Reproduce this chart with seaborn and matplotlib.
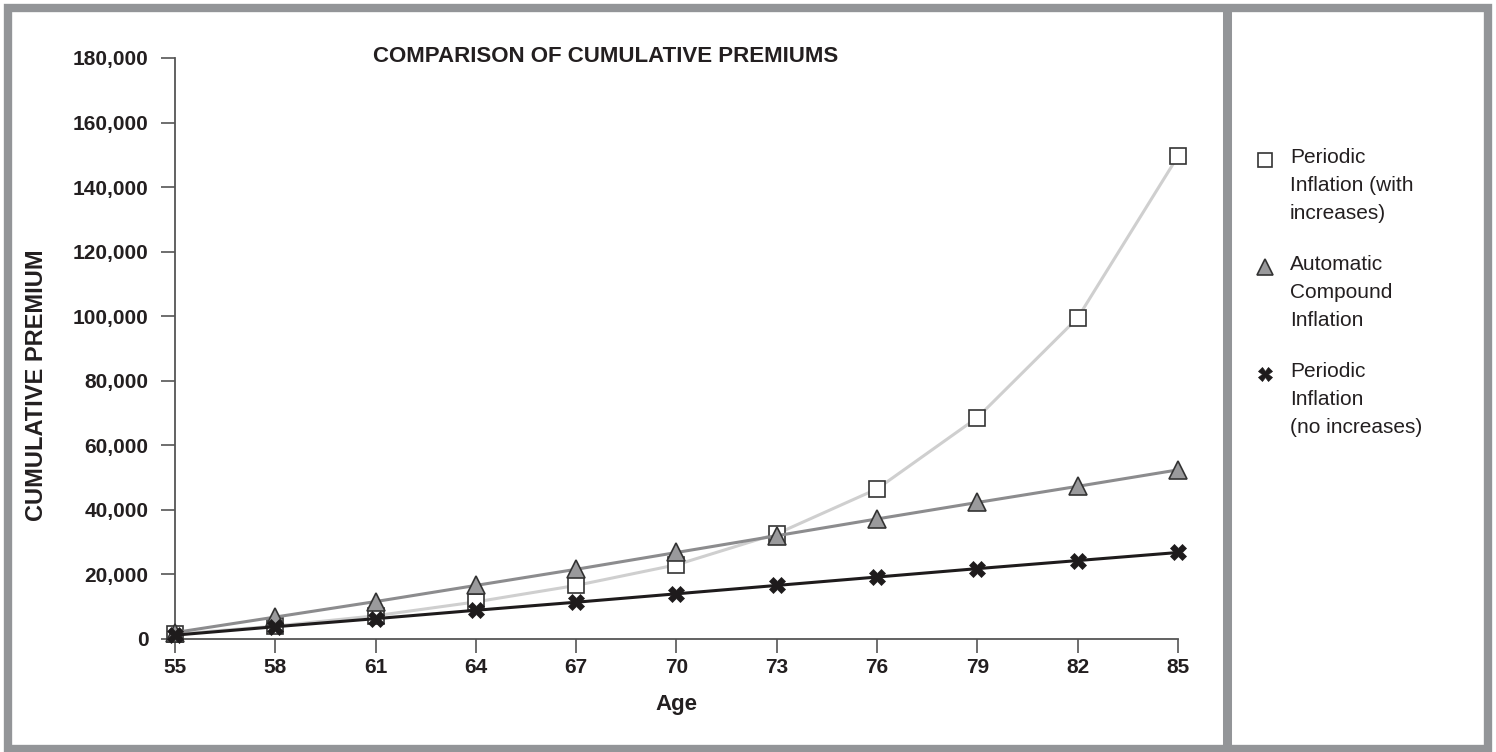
import matplotlib
matplotlib.use("Agg")
import matplotlib.pyplot as plt
from matplotlib.lines import Line2D
from matplotlib.patches import Rectangle
import numpy as np
import pandas as pd
import seaborn as sns

ages = [55, 58, 61, 64, 67, 70, 73, 76, 79, 82, 85]
periodic_with = [1500, 4000, 7200, 11500, 16600, 23000, 32600, 46500, 68600, 99500, 149600]
automatic = [2000, 6800, 11600, 16600, 21600, 26800, 32000, 37200, 42300, 47300, 52400]
periodic_no = [1200, 3800, 6300, 8900, 11400, 14000, 16600, 19200, 21800, 24300, 26800]
y_ticks = [0, 20000, 40000, 60000, 80000, 100000, 120000, 140000, 160000, 180000]

labels = ["Periodic\nInflation (with\nincreases)",
          "Automatic\nCompound\nInflation",
          "Periodic\nInflation\n(no increases)"]

df = pd.DataFrame({"Age": ages, "with": periodic_with,
                   "auto": automatic, "no": periodic_no})

sns.set_style("white")
plt.rcParams["font.family"] = ["Liberation Sans", "DejaVu Sans"]

fig = plt.figure(figsize=(14.96, 7.52), dpi=100)
ax = fig.add_axes([175 / 1496, 1 - 639 / 752, (1178 - 175) / 1496, (639 - 58) / 752])

# column, line colour, marker, face, edge, size, edge width
styles = [
    ("with", "#cfcfcf", "s", "white", "#333333", 11, 1.2),
    ("auto", "#8c8c8e", "^", "#9a9a9c", "#333333", 13, 1.2),
    ("no", "#1e1b1c", "X", "#1e1b1c", "#1e1b1c", 11, 0.5),
]
for col, lc, mk, mfc, mec, ms, mew in styles:
    sns.lineplot(data=df, x="Age", y=col, ax=ax, color=lc, lw=2.2,
                 marker=mk, markersize=ms, markerfacecolor=mfc,
                 markeredgecolor=mec, markeredgewidth=mew, zorder=3)

ax.set_xlim(55, 85)
ax.set_ylim(0, 180000)
ax.set_xticks(ages)
ax.set_yticks(y_ticks)
ax.set_yticklabels([f"{v:,}" for v in y_ticks])
for lab in ax.get_xticklabels() + ax.get_yticklabels():
    lab.set_fontweight("bold")
    lab.set_fontsize(15)
    lab.set_color("#231f20")
ax.tick_params(axis="both", length=10, width=1.2, color="#555555", direction="out",
               left=True, bottom=True)
ax.tick_params(axis="y", pad=9)
ax.tick_params(axis="x", pad=4)
for s in ["top", "right"]:
    ax.spines[s].set_visible(False)
for s in ["left", "bottom"]:
    ax.spines[s].set_color("#555555")
    ax.spines[s].set_linewidth(1.3)
ax.set_xlabel("Age", fontsize=16, fontweight="bold", color="#231f20", labelpad=12)
ax.set_ylabel("CUMULATIVE PREMIUM", fontsize=17, fontweight="bold", color="#231f20")
ax.yaxis.set_label_coords(-127 / 1003, (639 - 385) / 581)
for line in ax.lines:
    line.set_clip_on(False)

fig.text(606 / 1496, 1 - 56 / 752, "COMPARISON OF CUMULATIVE PREMIUMS",
         ha="center", va="center", fontsize=16, fontweight="bold", color="#231f20")

# legend drawn by hand so the marker sits beside the first line of each label
legend_marks = [
    dict(marker="s", markersize=10, markerfacecolor="white",
         markeredgecolor="#333333", markeredgewidth=1.2),
    dict(marker="^", markersize=11, markerfacecolor="#9a9a9c",
         markeredgecolor="#333333", markeredgewidth=1.2),
    dict(marker="X", markersize=10, markerfacecolor="#1e1b1c",
         markeredgecolor="#1e1b1c", markeredgewidth=0.5),
]
legend_y = [160, 267, 374]
for lab, mk, yc in zip(labels, legend_marks, legend_y):
    yf = 1 - yc / 752
    fig.lines.append(Line2D([1265 / 1496], [yf], ls="none",
                            transform=fig.transFigure, **mk))
    fig.text(1290 / 1496, 1 - (yc - 12) / 752, lab, ha="left", va="top",
             fontsize=15, color="#231f20", linespacing=1.6)

border = "#939598"
fig.patches.append(Rectangle((8 / 1496, 3 / 752), 1480 / 1496, 741 / 752,
                             transform=fig.transFigure, fill=False,
                             edgecolor=border, lw=6, zorder=0))
fig.lines.append(Line2D([1227 / 1496, 1227 / 1496], [3 / 752, 744 / 752],
                        transform=fig.transFigure, color=border, lw=6.5))

fig.savefig("out.png", dpi=100)
